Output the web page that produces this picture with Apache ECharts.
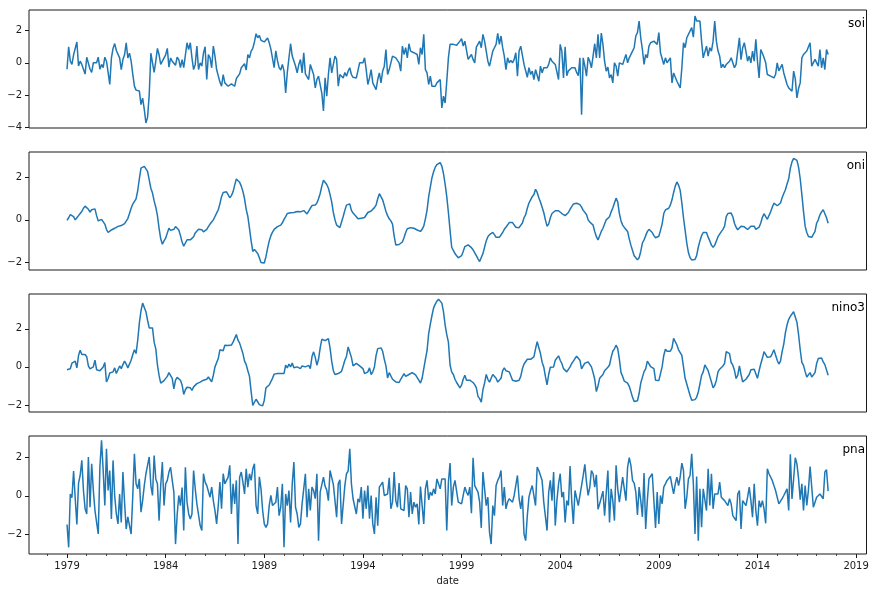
<!DOCTYPE html>
<html><head><meta charset="utf-8">
<script src="https://cdn.jsdelivr.net/npm/echarts@6/dist/echarts.min.js"></script>
<style>html,body{margin:0;padding:0;background:#fff}#c{width:876px;height:592px}</style>
</head><body><div id="c"></div>
<script>
// Monthly series, January 1979 .. August 2017 (one row per year)
const START_YEAR = 1979;
const soi = [
-0.4,1.0,0.1,-0.1,0.5,0.6,1.3,-0.2,0.1,-0.1,-0.4,-0.7,
0.35,0.3,-0.4,-0.6,0.0,0.0,0.0,0.35,-0.4,-0.1,-0.3,0.35,
0.1,-0.6,-1.35,0.3,0.9,1.2,0.77,0.73,0.31,-0.42,0.2,0.5,
1.25,0.3,0.6,0.1,-0.7,-1.45,-1.7,-1.75,-1.75,-2.6,-2.2,-2.9,
-3.75,-3.4,-2.0,0.6,0.0,-0.6,0.1,0.9,0.5,-0.1,0.1,0.2,
0.5,0.9,-0.27,0.3,0.1,0.2,-0.15,0.35,0.2,-0.3,0.2,-0.3,
-0.42,1.25,0.83,1.25,0.31,-0.42,-0.1,1.04,-0.42,0.0,-0.2,0.6,
1.0,-1.04,0.52,0.31,-0.31,1.04,0.42,-0.42,-0.52,-1.2,-1.46,-0.73,
-1.25,-1.35,-1.46,-1.4,-1.31,-1.19,-1.46,-0.98,-1.04,-0.69,-0.31,-0.42,
-0.06,-0.45,0.52,0.31,0.73,0.9,1.3,1.81,1.56,1.7,1.4,1.5,
1.3,1.3,1.55,1.25,0.85,0.9,-0.3,0.75,0.15,-0.3,-0.45,-0.1,
-0.5,-1.88,-0.6,0.3,1.19,0.42,0.5,-0.2,-0.63,-0.1,0.2,-0.63,
0.63,-0.69,-0.63,-1.04,-0.1,-0.06,-0.73,-1.56,-1.04,-0.83,-0.73,-1.9,
-3.0,-0.94,-2.08,-0.73,0.31,-0.63,-0.63,0.42,0.21,-1.46,-0.73,-0.7,
-0.94,-0.6,-0.83,-0.52,-0.31,-0.73,-0.9,-0.83,-0.94,-1.04,0.0,0.1,
0.0,0.31,-0.42,-1.35,-0.94,-0.42,-1.25,-1.35,-1.67,-1.04,-0.63,-1.25,
-0.52,-0.21,0.83,-0.73,-0.42,0.0,0.42,0.31,0.31,0.21,0.0,-0.52,
1.04,0.52,0.94,0.31,1.19,0.73,0.73,0.63,0.67,0.52,-0.1,0.94,
0.52,1.77,-0.42,-0.63,-1.35,-0.83,-1.46,-1.35,-1.46,-1.25,-1.25,-1.04,
-2.81,-2.08,-2.5,-1.15,0.31,1.15,1.25,1.15,1.04,1.1,0.98,1.35,
1.5,1.04,1.35,1.46,0.21,0.31,0.52,0.21,0.0,0.98,0.98,1.35,
0.94,1.77,1.35,1.25,0.1,-0.21,-0.21,0.73,0.94,1.15,1.83,1.15,
1.67,0.94,0.42,-0.42,0.31,0.0,0.15,0.0,0.21,0.63,-0.83,0.73,
1.04,1.15,-0.1,-0.21,-0.9,-0.3,-0.73,-0.52,-1.04,-0.42,-0.31,-1.15,
-0.21,-0.63,-0.31,-0.21,-0.31,-0.1,0.31,0.1,0.0,-0.1,-0.21,-1.04,
1.15,0.73,-0.94,1.0,-0.8,-0.5,-0.4,-0.31,-0.21,-0.31,-0.6,-0.8,
0.31,-3.23,0.31,-0.21,-0.83,0.35,0.1,-0.31,0.42,1.19,0.31,1.77,
0.3,1.85,1.15,0.1,-0.52,-0.27,-0.94,-0.73,-1.25,0.0,-0.2,-0.83,
0.0,0.1,-0.1,0.0,0.52,0.0,0.31,0.42,0.73,0.94,1.67,1.88,
2.6,1.56,0.83,-0.1,0.52,0.31,1.04,1.25,1.35,1.35,1.42,1.15,
1.88,0.63,0.73,-0.1,0.31,0.0,0.0,0.31,-1.25,-0.63,-0.73,-1.15,
-1.2,-1.56,-0.31,1.25,0.94,1.56,1.77,1.98,2.19,1.6,2.92,2.6,
2.71,2.6,1.35,0.31,0.21,1.04,0.42,0.94,0.73,1.35,2.6,1.35,
0.73,0.42,-0.31,-0.1,-0.31,-0.1,-0.2,0.1,0.31,0.31,-0.31,-0.1,
0.0,1.56,0.2,0.94,1.25,0.7,0.1,0.42,0.0,0.73,0.1,1.46,
0.1,-0.94,0.83,0.6,0.31,0.0,-0.73,-0.73,-0.83,-0.73,-0.94,-0.73,
0.0,-0.5,-0.4,-0.1,-0.63,-0.73,-1.35,-1.56,-1.67,-1.77,-0.52,-1.0,
-2.19,-1.6,-1.25,0.31,0.52,0.5,0.73,0.73,1.25,-0.21,-0.1,0.21,
0.1,-0.21,0.83,-0.31,0.31,-0.42,0.83,0.52
];
const oni = [
-0.03,0.1,0.25,0.3,0.15,0.0,0.1,0.2,0.3,0.4,0.55,0.65,
0.63,0.5,0.37,0.48,0.56,0.52,0.2,-0.05,-0.04,0.02,0.08,-0.2,
-0.45,-0.6,-0.55,-0.48,-0.44,-0.4,-0.35,-0.31,-0.29,-0.27,-0.24,-0.18,
-0.1,0.06,0.3,0.55,0.75,0.83,1.0,1.38,1.95,2.45,2.54,2.54,
2.5,2.3,1.9,1.5,1.27,0.9,0.6,0.2,-0.4,-0.9,-1.16,-1.0,
-0.87,-0.63,-0.4,-0.5,-0.55,-0.45,-0.32,-0.33,-0.48,-0.75,-1.05,-1.25,
-1.1,-0.95,-0.95,-0.95,-0.93,-0.8,-0.62,-0.55,-0.45,-0.4,-0.47,-0.57,
-0.6,-0.45,-0.32,-0.2,-0.1,0.0,0.16,0.32,0.48,0.76,1.1,1.3,
1.33,1.33,1.2,1.05,1.15,1.33,1.65,1.94,1.85,1.78,1.6,1.35,
1.0,0.5,0.16,-0.4,-1.0,-1.5,-1.4,-1.4,-1.6,-1.8,-2.02,-2.1,
-2.05,-1.75,-1.35,-1.0,-0.75,-0.58,-0.45,-0.38,-0.32,-0.27,-0.25,-0.14,
0.02,0.15,0.3,0.33,0.34,0.34,0.35,0.36,0.4,0.44,0.38,0.44,
0.44,0.4,0.28,0.35,0.55,0.68,0.76,0.7,0.8,1.0,1.25,1.6,
1.88,1.82,1.68,1.5,1.2,0.85,0.35,0.0,-0.25,-0.33,-0.37,-0.1,
0.16,0.45,0.7,0.79,0.76,0.45,0.32,0.29,0.15,0.05,0.03,0.08,
0.1,0.11,0.2,0.35,0.4,0.42,0.43,0.58,0.7,1.0,1.24,1.2,
0.95,0.68,0.4,0.2,0.05,-0.05,-0.2,-0.77,-1.19,-1.2,-1.17,-1.16,
-1.05,-0.85,-0.6,-0.42,-0.37,-0.37,-0.38,-0.4,-0.45,-0.48,-0.55,-0.55,
-0.45,-0.3,0.05,0.45,1.1,1.55,2.0,2.28,2.5,2.62,2.7,2.72,
2.55,2.2,1.7,1.1,0.35,-0.5,-1.3,-1.45,-1.6,-1.7,-1.8,-1.86,
-1.7,-1.5,-1.27,-1.2,-1.19,-1.25,-1.32,-1.42,-1.51,-1.7,-1.85,-1.98,
-1.9,-1.6,-1.3,-1.0,-0.8,-0.7,-0.65,-0.6,-0.7,-0.83,-0.84,-0.83,
-0.75,-0.6,-0.45,-0.35,-0.32,-0.13,-0.13,-0.13,-0.2,-0.35,-0.37,-0.37,
-0.3,-0.15,0.1,0.25,0.55,0.8,0.95,1.1,1.2,1.45,1.3,1.05,
0.85,0.6,0.35,0.0,-0.3,-0.2,0.1,0.3,0.38,0.43,0.43,0.43,
0.37,0.3,0.25,0.2,0.24,0.35,0.5,0.63,0.75,0.79,0.79,0.77,
0.72,0.6,0.45,0.38,0.25,0.0,-0.1,-0.12,-0.25,-0.55,-0.8,-0.95,
-0.75,-0.55,-0.4,-0.2,0.0,0.06,0.15,0.38,0.56,0.8,1.03,0.85,
0.3,-0.05,-0.25,-0.36,-0.45,-0.55,-0.9,-1.2,-1.45,-1.7,-1.8,-1.9,
-1.8,-1.5,-1.1,-0.95,-0.75,-0.56,-0.45,-0.4,-0.6,-0.75,-0.85,-0.83,
-0.78,-0.5,-0.2,0.3,0.47,0.53,0.55,0.7,0.95,1.3,1.6,1.8,
1.65,1.4,0.8,0.1,-0.5,-1.1,-1.55,-1.8,-1.9,-1.97,-1.88,-1.7,
-1.3,-1.0,-0.75,-0.6,-0.53,-0.6,-0.82,-1.0,-1.2,-1.3,-1.2,-1.0,
-0.8,-0.68,-0.56,-0.45,-0.3,0.15,0.3,0.35,0.32,0.15,-0.16,-0.35,
-0.47,-0.4,-0.3,-0.3,-0.33,-0.4,-0.46,-0.38,-0.3,-0.26,-0.3,-0.45,
-0.48,-0.35,-0.15,0.12,0.29,0.15,0.03,0.1,0.38,0.6,0.79,0.72,
0.67,0.69,0.8,1.05,1.25,1.43,1.7,1.95,2.45,2.75,2.92,2.97,
2.82,2.5,1.95,1.2,0.4,-0.3,-0.6,-0.79,-0.82,-0.83,-0.75,-0.55,
-0.16,0.0,0.24,0.38,0.48,0.4,0.1,-0.16
];
const nino3 = [
-0.15,-0.2,-0.1,0.2,0.15,0.3,-0.05,0.6,0.88,0.65,0.61,0.65,
0.53,0.05,-0.1,0.0,0.0,0.35,-0.15,-0.23,-0.2,-0.26,0.0,0.23,
-0.79,-0.61,-0.32,-0.35,-0.26,-0.05,-0.35,-0.35,0.05,-0.09,0.12,0.3,
0.15,-0.05,0.05,0.35,0.65,0.9,0.7,1.4,2.3,2.95,3.35,3.3,
2.9,2.45,2.05,2.02,2.05,1.3,0.95,0.1,-0.45,-0.85,-0.8,-0.72,
-0.68,-0.5,-0.3,-0.4,-0.6,-1.15,-0.7,-0.55,-0.55,-0.7,-0.95,-1.45,
-1.2,-1.07,-1.08,-1.1,-1.23,-1.05,-0.96,-0.88,-0.85,-0.8,-0.77,-0.7,
-0.72,-0.65,-0.53,-0.58,-0.79,-0.44,0.0,0.05,0.44,0.9,0.96,0.85,
1.14,1.07,1.12,1.18,1.15,1.3,1.5,1.7,1.4,1.25,1.16,0.7,
0.3,0.12,-0.2,-0.5,-1.3,-2.02,-1.95,-1.7,-1.75,-1.98,-2.07,-2.05,
-1.75,-1.1,-1.05,-0.95,-0.85,-0.6,-0.38,-0.43,-0.35,-0.35,-0.35,-0.35,
-0.35,0.09,-0.05,0.15,0.0,0.2,-0.05,0.0,0.0,0.08,-0.09,0.05,
0.12,0.0,-0.09,0.08,-0.09,0.53,0.79,0.5,0.09,0.4,1.0,1.45,
1.45,1.38,1.42,1.49,1.0,0.3,-0.2,-0.4,-0.4,-0.35,-0.3,-0.23,
0.05,0.35,0.55,1.05,1.14,0.5,0.05,0.0,0.18,0.23,0.05,0.0,
-0.09,-0.35,-0.44,-0.26,-0.05,-0.4,-0.26,0.0,0.6,0.96,1.05,1.0,
0.82,0.4,0.05,-0.58,-0.3,-0.2,-0.65,-0.75,-0.79,-0.82,-0.82,-0.65,
-0.6,-0.35,-0.5,-0.55,-0.4,-0.32,-0.3,-0.38,-0.42,-0.5,-0.7,-0.85,
-0.6,-0.1,0.4,0.85,1.75,2.25,2.7,3.1,3.3,3.45,3.56,3.6,
3.35,2.9,2.2,1.7,1.3,0.1,-0.26,-0.4,-0.65,-0.82,-0.82,-1.1,
-0.96,-0.65,-0.44,-0.7,-0.7,-0.7,-0.75,-0.82,-0.93,-1.1,-1.55,-1.67,
-1.85,-1.2,-0.85,-0.4,-0.65,-0.8,-0.6,-0.4,-0.35,-0.6,-0.8,-0.8,
-0.6,-0.2,-0.05,-0.2,-0.25,-0.26,-0.26,-0.7,-0.7,-0.75,-0.7,-0.7,
-0.5,-0.1,0.15,0.2,0.4,0.3,0.4,0.45,0.53,0.95,1.32,1.3,
0.7,0.25,0.0,-0.5,-0.95,-0.4,-0.02,0.0,0.0,0.35,0.44,0.58,
0.35,0.18,-0.09,0.0,-0.26,-0.18,0.0,0.18,0.3,0.44,0.56,0.58,
0.35,-0.1,0.05,0.2,0.26,0.26,0.22,0.0,-0.3,-0.65,-1.3,-1.0,
-0.6,-0.55,-0.4,-0.2,-0.1,-0.02,0.1,0.5,0.82,0.95,1.14,0.96,
0.4,-0.3,-0.5,-0.75,-0.7,-0.85,-1.02,-1.3,-1.6,-1.82,-1.88,-1.78,
-1.4,-0.85,-0.55,-0.25,-0.1,0.3,0.3,0.02,-0.05,-0.09,-0.7,-0.7,
-0.72,-0.79,0.0,0.6,0.93,0.82,0.82,0.82,1.0,1.5,1.4,1.15,
0.9,0.75,0.6,0.0,-0.6,-0.9,-1.2,-1.5,-1.75,-1.82,-1.72,-1.6,
-1.32,-0.9,-0.45,-0.26,0.1,0.18,-0.2,-0.5,-0.79,-1.1,-0.98,-0.7,
-0.26,-0.12,-0.09,0.05,0.18,0.8,0.88,0.7,0.23,0.09,-0.18,-0.61,
-0.44,0.05,-0.4,-0.79,-0.75,-0.65,-0.58,-0.4,-0.15,-0.1,-0.12,-0.09,
-0.6,-0.2,0.15,0.45,0.8,0.8,0.5,0.5,0.53,0.7,0.9,0.8,
0.35,0.15,0.3,0.8,1.2,1.8,2.2,2.5,2.65,2.78,2.9,2.93,
2.35,1.7,0.9,0.24,0.08,-0.25,-0.53,-0.5,-0.3,-0.53,-0.45,-0.3,
0.18,0.44,0.35,0.47,0.26,0.12,0.05,-0.44
];
const pna = [
-1.5,-2.7,0.1,-0.1,1.3,-0.15,-1.5,0.65,1.07,1.86,0.28,-0.68,
-0.95,2.04,-0.6,1.68,0.3,-0.77,-0.8,-2.0,1.5,2.91,1.33,-0.51,
2.47,0.28,1.33,-1.21,1.86,0.0,-0.95,-1.47,0.1,-1.4,1.25,-0.33,
-1.74,-1.1,-1.56,-2.0,0.0,2.21,0.63,0.37,0.89,-0.86,-0.25,0.54,
1.16,1.6,2.04,0.54,0.02,2.12,0.89,0.63,-1.3,0.54,1.77,-0.51,
0.63,0.81,1.25,1.5,0.81,0.2,-2.53,-1.0,0.02,-0.51,0.44,-1.82,
1.5,-0.33,-0.95,-1.21,-0.95,1.33,0.37,-0.42,-0.51,-1.56,-1.82,1.16,
0.72,0.54,0.46,-0.07,0.46,-0.25,-0.77,-1.47,-0.51,0.72,-0.68,1.16,
0.63,0.63,0.98,1.6,-0.95,0.63,-0.42,0.81,-2.53,0.98,1.25,0.72,
0.1,1.42,0.46,1.16,0.81,1.42,1.68,-0.51,-0.95,1.0,0.37,-0.77,
-1.47,-1.65,-1.47,-0.51,0.02,-0.51,-0.6,-0.33,0.46,-1.04,-0.6,0.63,
-2.7,0.1,-0.51,0.28,-1.4,0.63,1.77,-0.6,-0.95,-1.65,-1.47,-0.42,
-0.42,1.16,-1.12,0.37,-0.77,0.46,0.28,-0.15,1.16,-2.35,0.2,0.28,
0.98,0.5,0.3,-0.25,1.33,1.42,0.6,-0.25,-1.12,0.63,0.84,-1.47,
-1.47,0.54,1.16,1.3,2.47,0.63,-0.15,-0.12,-0.95,-0.15,-0.33,0.46,
-1.2,0.28,-0.68,0.54,-1.2,0.02,-1.47,-2.0,-0.07,-1.56,0.46,0.37,
0.72,0.02,0.05,0.1,0.95,-0.68,-0.33,1.25,-0.25,-0.6,0.67,-0.68,
-0.68,-0.77,0.54,0.37,-1.12,0.2,-0.95,-0.33,-0.6,-0.42,-1.5,0.49,
0.49,-1.47,0.37,0.81,-0.21,0.2,0.02,0.37,0.1,0.89,0.89,0.37,
0.89,0.89,0.89,-1.82,0.72,1.72,-0.51,0.46,0.81,0.81,-0.33,-0.42,
-0.42,0.02,0.46,0.2,0.02,0.46,-0.91,2.0,0.54,0.63,0.2,-0.33,
-1.68,1.25,1.16,-0.51,-0.07,-1.91,-2.53,-0.51,-1.04,0.54,0.81,0.98,
1.33,-0.51,0.46,-0.68,-0.33,-0.15,-0.07,-0.33,0.02,0.1,1.07,-0.15,
-0.68,0.02,-2.0,-2.35,-1.04,-0.07,0.28,0.54,0.63,-0.51,1.51,1.33,
1.07,0.81,-0.33,-0.33,-1.82,0.2,0.81,-0.25,1.25,-1.56,-0.25,0.63,
1.16,-0.07,0.2,-1.39,-0.25,-0.51,1.56,-0.25,-1.47,0.28,0.2,-0.51,
0.02,0.54,1.07,1.65,0.72,0.02,0.46,1.33,1.16,0.46,1.1,-0.7,
-0.42,-0.5,0.25,-1.04,-0.95,1.33,-1.39,0.37,-0.25,-1.3,1.6,0.37,
-0.33,-0.25,0.98,0.37,-0.25,1.5,2.0,1.6,0.81,0.67,0.2,-1.0,
0.46,-0.25,-1.1,1.2,-1.74,-0.25,0.9,0.98,1.16,1.07,-1.68,0.2,
-1.47,0.02,-0.42,0.46,0.63,0.81,0.9,1.02,0.54,0.1,0.63,0.98,
0.54,1.0,1.72,1.33,-0.68,-0.07,0.89,1.07,2.21,0.63,-2.0,1.02,
-2.35,0.37,-1.65,0.37,0.46,-0.77,1.42,-0.51,1.16,-0.68,0.1,0.1,
0.1,0.72,-0.07,-0.15,-0.25,-0.33,-0.51,-0.15,-0.42,-1.04,-1.04,-1.3,
0.1,0.28,-1.74,-0.25,-0.25,-0.51,-0.07,0.46,-0.25,-1.12,0.63,-0.77,
-1.56,-0.25,-0.6,-0.25,-0.68,-1.44,1.42,1.16,1.2,0.81,0.54,0.28,
0.37,-0.42,-0.33,-0.15,0.02,-0.07,0.37,-0.77,2.18,-0.16,0.9,2.0,
1.68,0.9,-0.2,0.63,-0.77,0.54,-0.5,0.3,1.54,1.51,-0.6,-0.33,
-0.07,0.02,0.1,0.2,-0.15,1.25,1.37,0.25
];
const seriesNames = ['soi', 'oni', 'nino3', 'pna'];
const majorYears = [1979, 1984, 1989, 1994, 1999, 2004, 2009, 2014, 2019];
const minorYears = [1978, 1980, 1981, 1982, 1983, 1985, 1986, 1987, 1988, 1990, 1991, 1992, 1993,
  1995, 1996, 1997, 1998, 2000, 2001, 2002, 2003, 2005, 2006, 2007, 2008, 2010, 2011, 2012, 2013,
  2015, 2016, 2017, 2018];
const yTickValues = [[-4, -2, 0, 2], [-2, 0, 2], [-2, 0, 2], [-2, 0, 2]];

// layout
const X_MIN = 1977.073, X_MAX = 2019.527;
const yRanges = [[-4.06, 3.29], [-2.38, 3.22], [-2.37, 3.83], [-3.05, 3.14]];
const gridTops = [10, 152, 294, 436];
const FONT = 'DejaVu Sans';
const allData = [soi, oni, nino3, pna];
const INK = '#1a1a1a';

function toPairs(arr) {
  return arr.map((v, i) => [START_YEAR + i / 12, v]);
}
function fmtY(v) { return v < 0 ? '\u2212' + Math.abs(v) : String(v); }

const grids = gridTops.map(t => ({ left: 29, top: t, width: 837.5, height: 118, show: true, borderColor: INK, borderWidth: 1, backgroundColor: 'transparent' }));

const xAxes = gridTops.map((t, i) => ({
  type: 'value', gridIndex: i, min: X_MIN, max: X_MAX, position: 'bottom',
  axisLine: { show: false, onZero: false }, splitLine: { show: false },
  axisTick: i === 3 ? { show: true, length: 4, lineStyle: { color: INK, width: 1 }, customValues: majorYears } : { show: false },
  axisLabel: i === 3 ? { show: true, customValues: majorYears, fontSize: 10, fontFamily: FONT, color: INK, margin: 7, formatter: v => String(Math.round(v)) } : { show: false },
  name: i === 3 ? 'date' : '', nameLocation: 'middle', nameGap: 22,
  nameTextStyle: { fontSize: 10, fontFamily: FONT, color: INK }
}));
xAxes.push({
  type: 'value', gridIndex: 3, min: X_MIN, max: X_MAX, position: 'bottom',
  axisLine: { show: false, onZero: false }, splitLine: { show: false }, axisLabel: { show: false },
  axisTick: { show: true, length: 2, lineStyle: { color: INK, width: 0.8 }, customValues: minorYears }
});

const yAxes = gridTops.map((t, i) => ({
  type: 'value', gridIndex: i, min: yRanges[i][0], max: yRanges[i][1], position: 'left',
  axisLine: { show: false, onZero: false }, splitLine: { show: false },
  axisTick: { show: true, length: 4, lineStyle: { color: INK, width: 1 }, customValues: yTickValues[i] },
  axisLabel: { show: true, customValues: yTickValues[i], fontSize: 10, fontFamily: FONT, color: INK, margin: 7, formatter: fmtY }
}));

const series = allData.map((d, i) => ({
  type: 'line', name: seriesNames[i], xAxisIndex: i, yAxisIndex: i,
  data: toPairs(d), showSymbol: false, symbol: 'none',
  lineStyle: { color: '#1f77b4', width: 1.5 }, itemStyle: { color: '#1f77b4' },
  smooth: false, silent: true
}));

const graphic = gridTops.map((t, i) => ({
  type: 'text', right: 11, top: t + 8,
  style: { text: seriesNames[i], fontSize: 12, fontFamily: FONT, fill: '#000' }
}));

const chart = echarts.init(document.getElementById('c'), null, { renderer: 'canvas' });
chart.setOption({
  animation: false,
  backgroundColor: '#fff',
  grid: grids, xAxis: xAxes, yAxis: yAxes, series: series, graphic: graphic
});
</script></body></html>
